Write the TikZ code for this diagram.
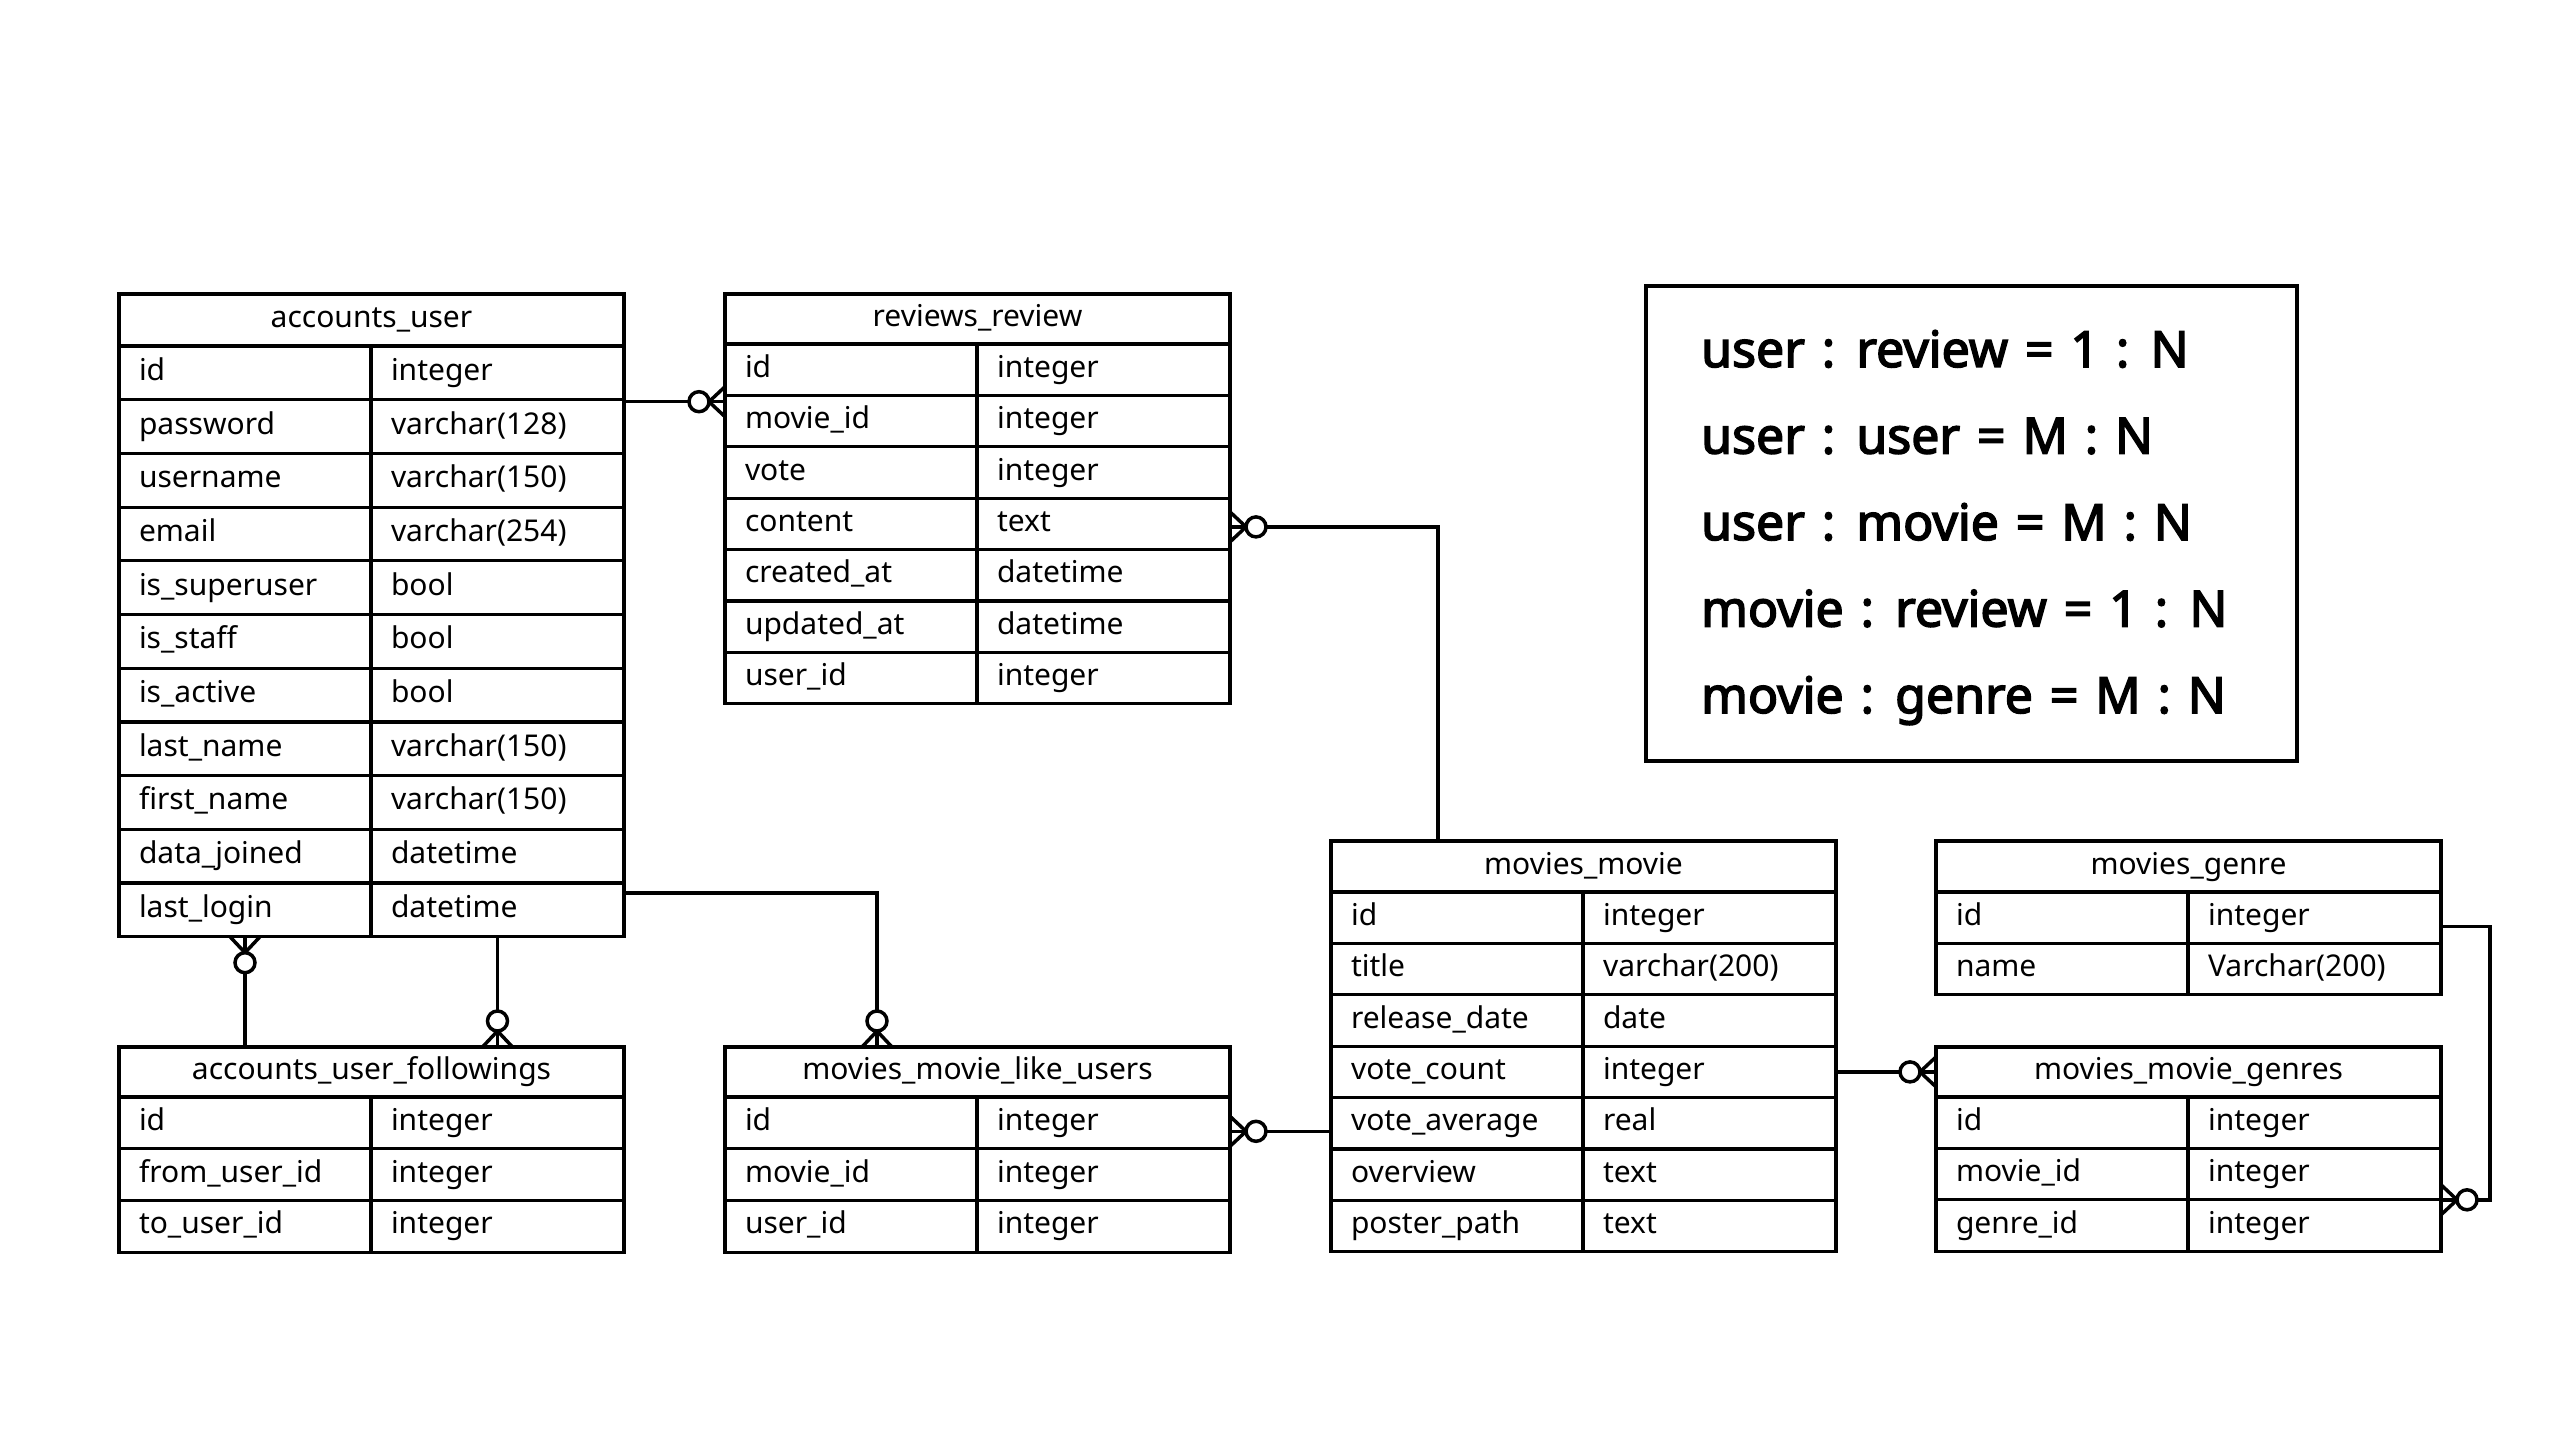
\documentclass[tikz,border=0pt]{standalone}
\usepackage{fontspec}
\setmainfont{Noto Sans}
\newfontfamily\lgfont{Noto Sans}[FakeBold=3, WordSpace=1.3]
\usetikzlibrary{calc}
\tikzset{
  tbl/.style={draw, line width=3.2pt, outer sep=0pt, inner ysep=0pt, font=\fontsize{30}{36}\selectfont, text height=22pt, text depth=7pt},
  hdr/.style={tbl, minimum width=505pt, anchor=north west, align=center},
  keycell/.style={tbl, minimum width=252pt, text width=212pt, inner xsep=20pt, align=left, anchor=north west},
  typecell/.style={tbl, minimum width=253pt, text width=213pt, inner xsep=20pt, align=left, anchor=north west},
  conn/.style={draw, line width=3.5pt},
  legendline/.style={anchor=base west, inner sep=0pt, font=\fontsize{50}{60}\lgfont},
  zmany/.pic={
    \draw[conn] (0,15) -- (16,0) -- (0,-15);
    \draw[conn, fill=white] (26,0) circle [radius=10pt];
  }
}
\newcommand{\erdtable}[7]{%
  \node[hdr, minimum height=#5pt] (#1) at (#2,#3) {#4};
  \foreach \fkey/\ftype [count=\ii] in {#7} {
    \node[keycell, minimum height=#6pt] (#1-k\ii) at ({#2},{#3+#5+(\ii-1)*#6}) {\fkey};
    \node[typecell, minimum height=#6pt] (#1-t\ii) at ({#2+252},{#3+#5+(\ii-1)*#6}) {\ftype};
  }
}
\begin{document}
\begin{tikzpicture}[x=1pt, y=-1pt]
\useasboundingbox[fill=white] (0,0) rectangle (2560,1440);

\erdtable{au}{119}{294}{accounts\_user}{52}{53.7}{id/integer, password/varchar(128), username/varchar(150), email/varchar(254), is\_superuser/bool, is\_staff/bool, is\_active/bool, last\_name/varchar(150), first\_name/varchar(150), data\_joined/datetime, last\_login/datetime}

\erdtable{rv}{725}{294}{reviews\_review}{50}{51.4}{id/integer, movie\_id/integer, vote/integer, content/text, created\_at/datetime, updated\_at/datetime, user\_id/integer}

\erdtable{afo}{119}{1047}{accounts\_user\_followings}{50}{51.7}{id/integer, from\_user\_id/integer, to\_user\_id/integer}

\erdtable{mlu}{725}{1047}{movies\_movie\_like\_users}{50}{51.7}{id/integer, movie\_id/integer, user\_id/integer}

\erdtable{mm}{1331}{841}{movies\_movie}{51}{51.4}{id/integer, title/varchar(200), release\_date/date, vote\_count/integer, vote\_average/real, overview/text, poster\_path/text}

\erdtable{mg}{1936}{841}{movies\_genre}{51}{51.4}{id/integer, name/Varchar(200)}

\erdtable{mmg}{1936}{1047}{movies\_movie\_genres}{50}{51.4}{id/integer, movie\_id/integer, genre\_id/integer}

% legend
\node[draw, line width=3.2pt, outer sep=0pt, anchor=north west, minimum width=651pt, minimum height=475pt] (legend) at (1646,286) {};
\node[legendline] (lg1) at (1701,367) {user : review = 1 : N};
\node[legendline] (lg2) at (1701,453.5) {user : user = M : N};
\node[legendline] (lg3) at (1701,540) {user : movie = M : N};
\node[legendline] (lg4) at (1701,626.5) {movie : review = 1 : N};
\node[legendline] (lg5) at (1701,713) {movie : genre = M : N};

% connectors
% user -> review
\coordinate (rvin) at ($(au-t1.south east -| rv-k1.west)+(0,2)$);
\draw[conn] (au-t1.south east |- rvin) -- (rvin);
\pic[rotate=180] at (rvin) {zmany};

% review -> movie
\coordinate (rvout) at ($(rv-t4.east)+(0,3)$);
\coordinate (mmtop) at ($(mm.north west)+(107,0)$);
\draw[conn] (rvout) -| (mmtop);
\pic at (rvout) {zmany};

% user -> followings (from)
\draw[conn] (au-k11.south) -- (au-k11.south |- afo.north);
\pic[rotate=-90] at (au-k11.south) {zmany};

% user -> followings (to)
\draw[conn] (au-t11.south) -- (au-t11.south |- afo.north);
\pic[rotate=90] at (au-t11.south |- afo.north) {zmany};

% user -> like users
\coordinate (auout) at ($(au-t11.north east)+(0,10)$);
\coordinate (mlutop) at ($(mlu.north west)+(152,0)$);
\draw[conn] (auout) -| (mlutop);
\pic[rotate=90] at (mlutop) {zmany};

% movie -> like users
\coordinate (mmleft) at ($(mm-k5.west)+(0,8)$);
\draw[conn] (mmleft) -- (mmleft -| mlu-t1.east);
\pic at (mmleft -| mlu-t1.east) {zmany};

% movie -> movie genres
\draw[conn] (mm-t4.east) -- (mm-t4.east -| mmg.west);
\pic[rotate=180] at (mm-t4.east -| mmg.west) {zmany};

% genre -> movie genres
\coordinate (mgout) at ($(mg-t1.east)+(0,9)$);
\draw[conn] (mgout) -- ++(49,0) |- (mmg-t2.south east);
\pic at (mmg-t2.south east) {zmany};
\end{tikzpicture}
\end{document}
